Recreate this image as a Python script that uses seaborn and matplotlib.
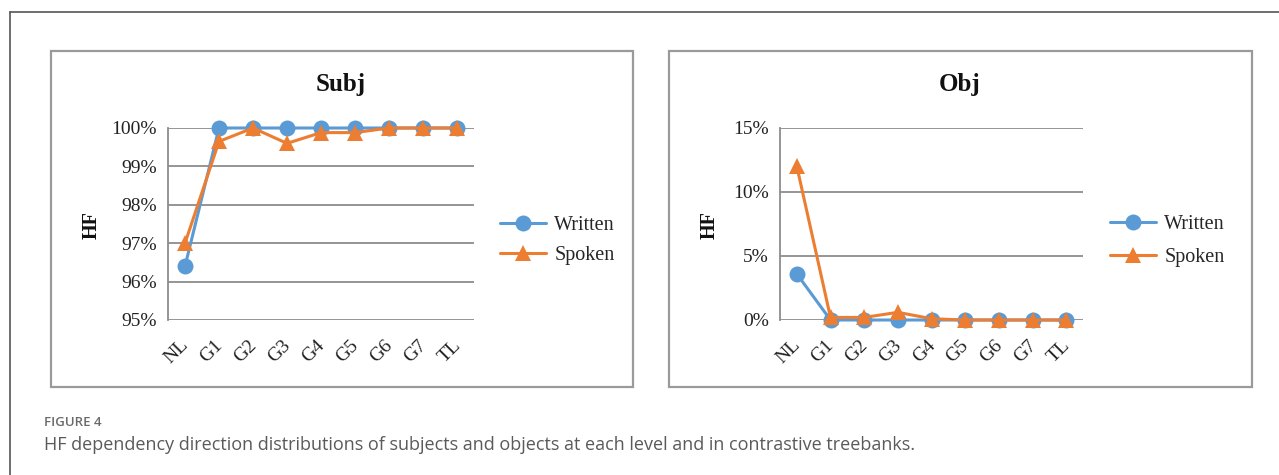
import pandas as pd
import numpy as np
import matplotlib
matplotlib.use('Agg')
import matplotlib.pyplot as plt
from matplotlib.patches import Rectangle
from matplotlib.lines import Line2D
from matplotlib.ticker import FuncFormatter
from matplotlib.transforms import ScaledTranslation
import seaborn as sns

# data
levels = ['NL', 'G1', 'G2', 'G3', 'G4', 'G5', 'G6', 'G7', 'TL']
subj_written = [96.4, 100, 100, 100, 100, 100, 100, 100, 100]
subj_spoken = [97.0, 99.65, 100, 99.6, 99.88, 99.88, 100, 100, 100]
obj_written = [3.6, 0, 0, 0, 0, 0, 0, 0, 0]
obj_spoken = [12.0, 0.2, 0.2, 0.6, 0.1, 0, 0, 0, 0]
series_names = ['Written', 'Spoken']
colors = {'Written': '#5B9BD5', 'Spoken': '#ED7D31'}

sns.set_theme(style='white')
plt.rcParams['font.family'] = ['Liberation Serif', 'DejaVu Serif']

W, H = 1279, 475
fig = plt.figure(figsize=(W / 100, H / 100), dpi=100)


def px_axes(x0, y0, x1, y1):
    return fig.add_axes([x0 / W, 1 - y1 / H, (x1 - x0) / W, (y1 - y0) / H])


def to_frame(written, spoken):
    return pd.DataFrame({
        'level': levels * 2,
        'value': written + spoken,
        'series': ['Written'] * len(levels) + ['Spoken'] * len(levels),
    })


# outer frame
fig.add_artist(Line2D([9.5 / W, 9.5 / W], [0, 1 - 12 / H], color='#555555', lw=1.2))
fig.add_artist(Line2D([9.5 / W, 1], [1 - 12 / H, 1 - 12 / H], color='#555555', lw=1.2))

# panel boxes
for bx0, bx1 in [(51, 633), (669, 1252)]:
    fig.add_artist(Rectangle((bx0 / W, 1 - 387 / H), (bx1 - bx0) / W, (387 - 51) / H,
                             transform=fig.transFigure, fill=False,
                             edgecolor='#9a9a9a', lw=1.6))

panels = [
    dict(title='Subj', box=(168, 128, 474, 320), ylim=(95, 100), ticks=[95, 96, 97, 98, 99, 100],
         written=subj_written, spoken=subj_spoken, title_x=341, ylab_x=92,
         leg=(500, 216), spacing=0.55),
    dict(title='Obj', box=(780, 128, 1083, 320), ylim=(0, 15), ticks=[0, 5, 10, 15],
         written=obj_written, spoken=obj_spoken, title_x=960, ylab_x=710,
         leg=(1110, 215), spacing=0.7),
]

for p in panels:
    ax = px_axes(*p['box'])
    df = to_frame(p['written'], p['spoken'])
    sns.lineplot(data=df, x='level', y='value', hue='series', style='series',
                 hue_order=series_names, style_order=series_names,
                 palette=colors, markers={'Written': 'o', 'Spoken': '^'},
                 dashes=False, markersize=11.5, linewidth=2.2,
                 markeredgewidth=0, ax=ax, legend=False, clip_on=False, zorder=3)
    ax.set_xlim(-0.5, len(levels) - 0.5)
    ax.set_ylim(*p['ylim'])
    ax.set_yticks(p['ticks'])
    ax.yaxis.set_major_formatter(FuncFormatter(lambda v, _: f'{v:.0f}%'))
    ax.grid(axis='y', color='#8c8c8c', lw=1.3)
    ax.set_axisbelow(True)
    for s in ['top', 'right', 'bottom']:
        ax.spines[s].set_visible(False)
    ax.spines['left'].set_color('#8c8c8c')
    ax.spines['left'].set_linewidth(1.3)
    ax.tick_params(axis='y', labelsize=14, length=0, pad=8, colors='#222222')
    ax.tick_params(axis='x', labelsize=14, length=0, pad=12, colors='#222222')
    shift = ScaledTranslation(-5 / 100, 0, fig.dpi_scale_trans)
    for lab in ax.get_xticklabels():
        lab.set_rotation(45)
        lab.set_ha('right')
        lab.set_rotation_mode('anchor')
        lab.set_transform(lab.get_transform() + shift)
    ax.set_xlabel('')
    ax.set_ylabel('')

    fig.text(p['title_x'] / W, 1 - 84 / H, p['title'], ha='center', va='center',
             fontsize=18, fontweight='bold', color='#111111')
    fig.text(p['ylab_x'] / W, 1 - 225 / H, 'HF', ha='center', va='center',
             rotation=90, fontsize=14.5, fontweight='bold', color='#111111')

    lx, ly = p['leg']
    handles = [Line2D([], [], color=colors[s], marker=m, markersize=11.5, lw=2.2,
                      markeredgewidth=0) for s, m in zip(series_names, ['o', '^'])]
    fig.legend(handles, series_names, loc='upper left',
               bbox_to_anchor=(lx / W, 1 - ly / H), frameon=False,
               fontsize=14.5, handlelength=2.3, handletextpad=0.4,
               labelspacing=p['spacing'], borderaxespad=0, borderpad=0)

# caption
fig.text(44 / W, 1 - 423 / H, 'FIGURE 4', ha='left', va='center', fontsize=9.5,
         fontweight='semibold', color='#6a6a6a', family=['Open Sans', 'DejaVu Sans'])
fig.text(44 / W, 1 - 445 / H,
         'HF dependency direction distributions of subjects and objects at each level and in contrastive treebanks.',
         ha='left', va='center', fontsize=13.0, color='#5a5a5a',
         family=['Open Sans', 'DejaVu Sans'])

fig.savefig('out.png', dpi=100)
